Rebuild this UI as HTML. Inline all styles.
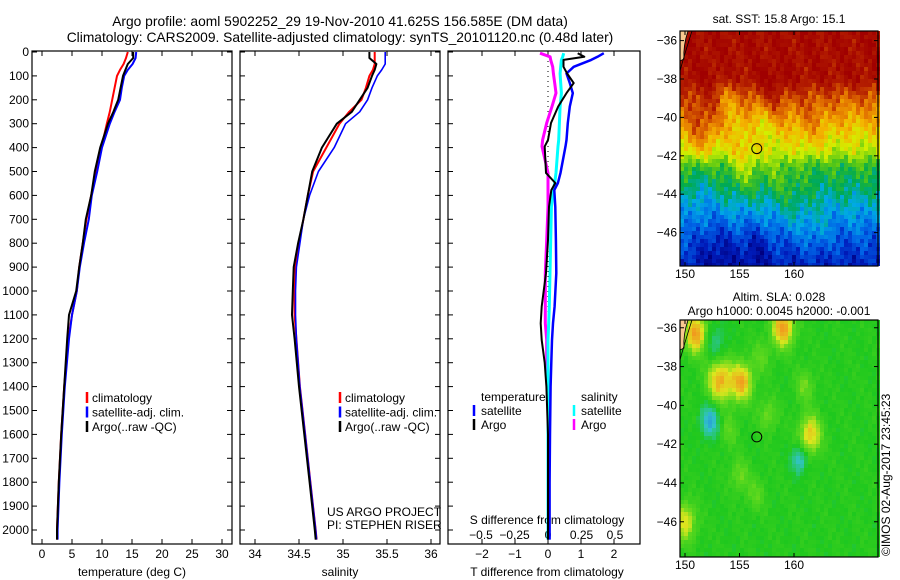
<!DOCTYPE html>
<html><head><meta charset="utf-8">
<style>
body{margin:0;background:#fff;}
svg{display:block;font-family:"Liberation Sans",sans-serif;}
</style></head>
<body>
<svg id="fig" width="900" height="580" viewBox="0 0 900 580" xmlns="http://www.w3.org/2000/svg">
<text x="340" y="26" font-size="13.8" text-anchor="middle">Argo profile: aoml 5902252_29 19-Nov-2010 41.625S 156.585E (DM data)</text>
<text x="340" y="42" font-size="13.8" text-anchor="middle">Climatology: CARS2009. Satellite-adjusted climatology: synTS_20101120.nc (0.48d later)</text>
<g id="g1"></g>
<g id="g2"></g>
<g id="g3"></g>
<g id="m1"></g>
<g id="m2"></g>
<text x="779" y="23" font-size="12" text-anchor="middle">sat. SST: 15.8 Argo: 15.1</text>
<text x="779" y="301" font-size="12" text-anchor="middle">Altim. SLA: 0.028</text>
<text x="779" y="315" font-size="12" text-anchor="middle">Argo h1000: 0.0045 h2000: -0.001</text>
<text transform="translate(890,556) rotate(-90)" font-size="12">©IMOS 02-Aug-2017 23:45:23</text>
<text x="327" y="516" font-size="12">US ARGO PROJECT</text>
<text x="327" y="529" font-size="12">PI: STEPHEN RISER</text>
</svg>
<script>
const NS="http://www.w3.org/2000/svg";
// ---- data ----
const depths=[0,25,50,75,100,150,200,250,300,400,500,600,700,800,900,1000,1100,1200,1400,1600,1800,2000,2040];
const tempArgo=[15.2,15.2,14.3,13.9,13.5,13.1,12.7,11.9,11.0,9.7,8.8,8.2,7.3,6.8,6.2,5.7,4.5,4.2,3.7,3.2,2.8,2.5,2.5];
const tempClim=[14.3,14.0,13.6,13.0,12.5,12.1,11.7,11.3,10.8,9.9,9.0,8.2,7.4,6.8,6.2,5.8,5.0,4.4,3.7,3.2,2.8,2.5,2.5];
const tempSat=[15.7,15.6,15.1,14.3,13.7,13.3,13.0,12.1,11.3,10.0,9.2,8.3,7.8,7.0,6.3,5.8,5.0,4.5,3.8,3.3,2.9,2.6,2.6];
const salArgo=[35.30,35.30,35.38,35.36,35.33,35.28,35.19,35.10,34.93,34.76,34.65,34.60,34.55,34.49,34.44,34.43,34.42,34.45,34.50,34.56,34.62,34.68,34.69];
const salClim=[35.36,35.36,35.36,35.34,35.30,35.26,35.21,35.07,34.96,34.81,34.66,34.60,34.55,34.50,34.46,34.45,34.45,34.47,34.51,34.57,34.63,34.69,34.70];
const salSat=[35.48,35.48,35.48,35.44,35.39,35.33,35.28,35.19,35.03,34.90,34.72,34.62,34.55,34.51,34.47,34.46,34.46,34.47,34.51,34.57,34.63,34.69,34.70];
const dDepths=[5,20,33,62,90,130,172,228,297,368,395,506,548,578,648,787,925,1065,1135,1205,1300,1400,1600,1800,2000,2040];
const dTArgo=[0.9,1.1,0.47,0.47,0.58,0.78,0.56,0.31,0.09,0.0,-0.1,-0.06,0.22,0.1,0.03,0.0,-0.06,-0.19,-0.22,-0.19,-0.1,-0.05,0.0,0.0,0.0,0.0];
const dTSat=[1.69,1.5,1.31,0.78,0.56,0.66,0.75,0.66,0.6,0.56,0.53,0.38,0.3,0.19,0.22,0.24,0.25,0.2,0.15,0.12,0.1,0.08,0.06,0.05,0.05,0.05];
const dSArgo=[-0.06,0.016,0.02,0.035,0.04,0.05,0.06,0.03,-0.01,-0.04,-0.045,0.0,0.0,0.0,0.0,-0.01,-0.02,-0.02,-0.02,-0.01,-0.01,0.0,0.0,0.0,0.0,0.0];
const dSSat=[0.117,0.11,0.1,0.095,0.09,0.095,0.1,0.09,0.085,0.08,0.075,0.06,0.05,0.04,0.025,0.02,0.015,0.01,0.005,0.0,0.0,0.0,0.0,0.0,0.0,0.0];
const depthTicks=[0,100,200,300,400,500,600,700,800,900,1000,1100,1200,1300,1400,1500,1600,1700,1800,1900,2000];
const tempTicks=[0,5,10,15,20,25,30];
const salTicks=[34,34.5,35,35.5,36];
const dTTicks=[-2,-1,0,1,2];
const dSTicks=[-0.5,-0.25,0,0.25,0.5];
const dSTickLabels=["-0.5","-0.25","0","0.25","0.5"];
// ---- scales ----
const pTop=51,pBot=544;
const yD=d=>52+d*0.239;
const xT=t=>42+t*6;
const xS=s=>255+(s-34)*88;
const xdT=t=>548+t*33;
const xdS=s=>548+s*134;
function el(p,tag,attrs){const e=document.createElementNS(NS,tag);for(const k in attrs)e.setAttribute(k,attrs[k]);p.appendChild(e);return e;}
function txt(p,x,y,s,anchor,size){const t=el(p,'text',{x:x,y:y,'font-size':size||12,'text-anchor':anchor||'start'});t.textContent=s;return t;}
function frame(g,x0,x1){
  const r=el(g,'rect',{x:x0,y:pTop,width:x1-x0,height:pBot-pTop,fill:'none',stroke:'#000','stroke-width':1.2});
  
  
  depthTicks.forEach(d=>{el(g,'line',{x1:x0,x2:x0+5,y1:yD(d),y2:yD(d),stroke:'#000'});el(g,'line',{x1:x1-5,x2:x1,y1:yD(d),y2:yD(d),stroke:'#000'});});
}
function xticks(g,ticks,sc,labels,ly){
  ticks.forEach((t,i)=>{const x=sc(t);el(g,'line',{x1:x,x2:x,y1:pTop,y2:pTop+5,stroke:'#000'});el(g,'line',{x1:x,x2:x,y1:pBot-5,y2:pBot,stroke:'#000'});
   const l=txt(g,x,ly,labels?labels[i]:String(t),'middle');
   
   });
}
function line(g,ds,vs,sc,color,w,name){
  const pts=ds.map((d,i)=>{const y=yD(d);return sc(vs[i]).toFixed(1)+','+y.toFixed(1);}).join(' ');
  const p=el(g,'polyline',{points:pts,fill:'none',stroke:color,'stroke-width':w,'stroke-linejoin':'round'});
  
  
}
function legendMark(g,x,y,color){el(g,'line',{x1:x,x2:x,y1:y-10,y2:y+1,stroke:color,'stroke-width':2.5});}
// panel 1
const g1=document.getElementById('g1');
frame(g1,32,232);
depthTicks.forEach(d=>{const l=txt(g1,29,yD(d)+4,String(d),'end');
  
  });
xticks(g1,tempTicks,xT,null,558);
const xl1=txt(g1,132,576,'temperature (deg C)','middle');


line(g1,depths,tempClim,xT,'#f00',2,'temp-climatology-line');
line(g1,depths,tempSat,xT,'#00f',2,'temp-satellite-line');
line(g1,depths,tempArgo,xT,'#000',2,'temp-argo-line');
[['climatology','#f00'],['satellite-adj. clim.','#00f'],['Argo(..raw -QC)','#000']].forEach((e,i)=>{const y=402+i*14.5;legendMark(g1,87,y,e[1]);const t=txt(g1,92,y,e[0]);
  
  });
// panel 2
const g2=document.getElementById('g2');
frame(g2,240,440);
xticks(g2,salTicks,xS,null,558);
const xl2=txt(g2,340,576,'salinity','middle');


line(g2,depths,salClim,xS,'#f00',2,'sal-climatology-line');
line(g2,depths,salSat,xS,'#00f',1.6,'sal-satellite-line');
line(g2,depths,salArgo,xS,'#000',2,'sal-argo-line');
[['climatology','#f00'],['satellite-adj. clim.','#00f'],['Argo(..raw -QC)','#000']].forEach((e,i)=>{const y=402+i*14.5;legendMark(g2,340,y,e[1]);const t=txt(g2,345,y,e[0]);
  
  });
// panel 3
const g3=document.getElementById('g3');
el(g3,'rect',{x:448,y:pTop,width:192,height:pBot-pTop,fill:'none',stroke:'#000','stroke-width':1.2});
depthTicks.forEach(d=>{el(g3,'line',{x1:448,x2:453,y1:yD(d),y2:yD(d),stroke:'#000'});});
dTTicks.forEach(t=>{const x=xdT(t);el(g3,'line',{x1:x,x2:x,y1:pTop,y2:pTop+5,stroke:'#000'});el(g3,'line',{x1:x,x2:x,y1:pBot-5,y2:pBot,stroke:'#000'});const l=txt(g3,x,558,String(t).replace('-','−'),'middle');
  
  });
dSTicks.forEach((s,i)=>{const l=txt(g3,xdS(s),539,dSTickLabels[i].replace('-','−'),'middle');
  
  });
el(g3,'line',{x1:548,x2:548,y1:pTop,y2:pBot,stroke:'#000','stroke-width':1,'stroke-dasharray':'1,4'});
const st=txt(g3,547,524,'S difference from climatology','middle');


const tt=txt(g3,547,576,'T difference from climatology','middle');


line(g3,dDepths,dSArgo,xdS,'#f0f',3,'s-argo-diff-line');
line(g3,dDepths,dSSat,xdS,'#0ff',3,'s-satellite-diff-line');
line(g3,dDepths,dTSat,xdT,'#00f',2.5,'t-satellite-diff-line');
line(g3,dDepths,dTArgo,xdT,'#000',2,'t-argo-diff-line');
[['temperature',481,401,null],['salinity',581,401,null],['satellite',481,415,'#00f'],['Argo',481,429,'#000'],['satellite',581,415,'#0ff'],['Argo',581,429,'#f0f']].forEach(e=>{if(e[3])legendMark(g3,e[1]-7,e[2],e[3]);const t=txt(g3,e[1],e[2],e[0]);
  
  });
// ---- maps ----
const mx0=680,mx1=878;
const lon=v=>685+(v-150)*10.9;
function pal(stops,v){v=Math.max(0,Math.min(1,v));for(let i=1;i<stops.length;i++){if(v<=stops[i][0]){const a=stops[i-1],b=stops[i],f=(v-a[0])/(b[0]-a[0]);return 'rgb('+[1,2,3].map(k=>Math.round(a[k]+(b[k]-a[k])*f)).join(',')+')';}}const l=stops[stops.length-1];return 'rgb('+l[1]+','+l[2]+','+l[3]+')';}
const sstStops=[[0,0,0,128],[0.1,0,30,190],[0.2,0,100,230],[0.3,0,170,230],[0.4,0,170,80],[0.5,90,200,20],[0.6,210,240,0],[0.7,245,180,0],[0.8,225,110,0],[0.9,180,30,0],[1,160,0,0]];
const slaStops=[[0,30,120,230],[0.25,50,195,200],[0.45,30,200,30],[0.6,90,215,30],[0.75,220,230,30],[0.9,240,160,30],[1,240,140,30]];
const sstBlobs=[[152,-40,0.1,1.2],[155.5,-42.5,0.12,1.0],[158,-39,0.08,1.0],[153,-46.8,-0.08,1.2],[156.5,-46.8,-0.08,1],[160,-44.5,0.06,1.0],[151,-41,0.08,1],[154,-39,-0.08,0.8],[157,-40.2,-0.08,0.7],[161.5,-40.5,0.07,1],[158.5,-43,0.06,0.9],[151.5,-44,-0.05,0.9],[162,-46,0.06,0.8]];
const slaBlobs=[[151,-36.3,0.45,0.7],[159,-36,0.45,0.7],[153.2,-38.7,0.4,0.8],[155.2,-38.8,0.4,0.7],[152.3,-40.8,-0.3,0.6],[161.5,-41.5,0.35,0.7],[160.5,-42.8,-0.25,0.5],[152.8,-36.8,-0.15,0.7],[150,-46,0.3,0.7],[157.6,-40.5,0.15,0.6],[155,-43.6,0.15,0.6],[156.5,-44.6,0.12,0.6],[161,-39,0.15,0.6],[157,-37.5,0.12,0.6],[154,-41.3,0.12,0.6]];
const sstProfile=[[-35,0.97],[-38,0.95],[-39,0.82],[-40.5,0.68],[-41.8,0.58],[-42.6,0.45],[-44,0.36],[-45,0.28],[-46.5,0.17],[-48,0.08]];
function sstBase(la){const pts=sstProfile;for(let i=1;i<pts.length;i++){if(la>=pts[i][0]){const a=pts[i-1],b=pts[i],f=(la-a[0])/(b[0]-a[0]);return a[1]+(b[1]-a[1])*f;}}return 0.08;}
function noise(lo,la){return 0.015*Math.sin(lo*2.3+la*1.7)+0.015*Math.sin(lo*5.7-la*3.9+1.3)+0.012*Math.sin(lo*9.1+la*7.3+0.4)+0.01*Math.sin(lo*13.7-la*11.1+2.1);}
function drawMap(gid,y0,y1,latTop,pxDeg,fn,stops){
  const g=document.getElementById(gid);const cell=4;
  for(let y=y0;y<y1;y+=cell)for(let x=mx0;x<mx1;x+=cell){
    const lo=150+(x+2-685)/10.9,la=latTop-(y+2-y0)/pxDeg;
    el(g,'rect',{x:x,y:y,width:cell,height:Math.min(cell,y1-y),fill:pal(stops,fn(lo,la)),'shape-rendering':'crispEdges'});
  }
  el(g,'path',{d:`M${mx0},${y0} L${mx0+8},${y0} Q${mx0+3},${y0+15} ${mx0+4},${y0+28} L${mx0},${y0+30} Z`,fill:'#f8c890',stroke:'#000','stroke-width':0.8});
  el(g,'path',{d:`M${mx0+12},${y0} Q${mx0+4},${y0+25} ${mx0},${y0+40}`,fill:'none',stroke:'#000','stroke-width':0.8});
  el(g,'rect',{x:mx0,y:y0,width:mx1-mx0,height:y1-y0,fill:'none',stroke:'#000','stroke-width':1.2});
  const ty=la=>y0+(latTop-la)*pxDeg;
  [-36,-38,-40,-42,-44,-46].forEach(la=>{el(g,'line',{x1:mx0,x2:mx0+4,y1:ty(la),y2:ty(la),stroke:'#000'});el(g,'line',{x1:mx1-4,x2:mx1,y1:ty(la),y2:ty(la),stroke:'#000'});const t=txt(g,mx0-3,ty(la)+4,'−'+(-la),'end');
    
    });
  [150,155,160].forEach(lo=>{el(g,'line',{x1:lon(lo),x2:lon(lo),y1:y1-4,y2:y1,stroke:'#000'});el(g,'line',{x1:lon(lo),x2:lon(lo),y1:y0,y2:y0+4,stroke:'#000'});const t=txt(g,lon(lo),y1+12,String(lo),'middle');
    
    });
  const c=el(g,'circle',{cx:lon(156.585),cy:ty(-41.625),r:5,fill:'none',stroke:'#000','stroke-width':1});
  
  
}
drawMap('m1',31,266,-35.5,19.2,(lo,la)=>{let v=sstBase(la)+2*noise(lo,la);sstBlobs.forEach(b=>{v+=b[2]*Math.exp(-((lo-b[0])**2+(la-b[1])**2)/(2*b[3]*b[3]));});return v;},sstStops);
drawMap('m2',320,557,-35.6,19.4,(lo,la)=>{let v=0.47+noise(lo,la);slaBlobs.forEach(b=>{v+=b[2]*Math.exp(-((lo-b[0])**2+(la-b[1])**2)/(2*b[3]*b[3]));});return v;},slaStops);
</script>
</body></html>
